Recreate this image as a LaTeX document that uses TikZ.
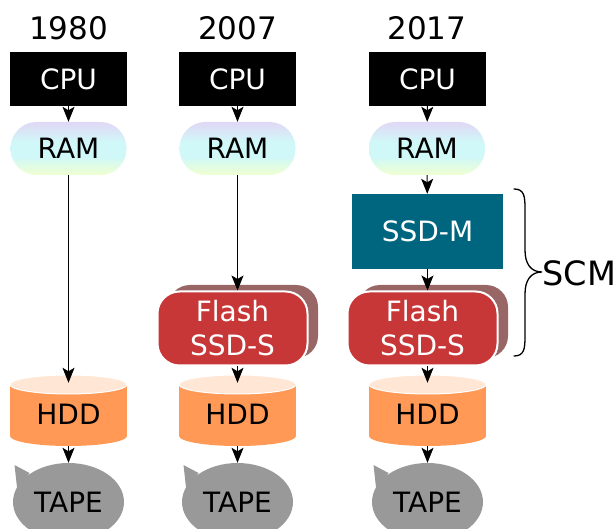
\documentclass[tikz,border=0pt]{standalone}
\usepackage{fontspec}
\setmainfont{DejaVu Sans}
\usetikzlibrary{arrows.meta,shapes.geometric}
\definecolor{flashred}{HTML}{C83737}
\definecolor{flashback}{HTML}{996666}
\definecolor{ssdteal}{HTML}{006680}
\definecolor{hddorange}{HTML}{FF9955}
\definecolor{hddtop}{HTML}{FFE6D5}
\definecolor{tapegray}{HTML}{999999}
\definecolor{ramA}{HTML}{E0D8F5}
\definecolor{ramB}{HTML}{D0F8F8}
\definecolor{ramC}{HTML}{F0FFD0}
\pgfdeclareverticalshading{ramgrad}{100bp}{
  color(0bp)=(ramC); color(25bp)=(ramC); color(42bp)=(ramB); color(56bp)=(ramB); color(75bp)=(ramA); color(100bp)=(ramA)}
\newcommand{\fsz}[1]{\fontsize{#1}{#1}\selectfont}
\tikzset{
  x=1pt,y=-1pt,
  year/.style={inner sep=0pt,font=\fsz{31}},
  cpubox/.style={fill=black,text=white,minimum width=117pt,minimum height=54pt,inner sep=0pt,font=\fsz{28}},
  rambox/.style={shading=ramgrad,rounded corners=26pt,minimum width=116pt,minimum height=53pt,inner sep=0pt,font=\fsz{28}},
  hddbox/.style={minimum width=117pt,minimum height=63pt,inner sep=0pt,font=\fsz{28}},
  tapebox/.style={ellipse,fill=tapegray,minimum width=111pt,minimum height=78pt,inner sep=0pt,font=\fsz{28}},
  flashbox/.style={fill=flashred,draw=white,line width=2pt,rounded corners=22pt,text=white,minimum width=150pt,minimum height=74pt,inner sep=0pt,align=center,font=\fsz{28}},
  flashrear/.style={fill=flashback,rounded corners=22pt,minimum width=150pt,minimum height=73pt,inner sep=0pt},
  ssdbox/.style={fill=ssdteal,text=white,minimum width=151pt,minimum height=75pt,inner sep=0pt,font=\fsz{28}},
  link/.style={draw=black,line width=1pt,-{Stealth[length=15pt,width=12pt,inset=3.5pt]}},
  hddbody/.style={fill=hddorange},
  hddlid/.style={fill=hddtop,draw=white,line width=1pt}
}
\newcommand{\hddshape}[1]{%
  \path[hddbody] (#1-58.5,384) rectangle (#1+58.5,436);
  \path[hddbody] (#1,436) ellipse[x radius=58.5,y radius=10];
  \path[hddlid] (#1,384.5) ellipse[x radius=58.5,y radius=9.5];
}
\newcommand{\tapetail}[1]{%
  \fill[tapegray] (#1-54,465) -- (#1-39,473) -- (#1-51,492) -- cycle;
}
\begin{document}
\begin{tikzpicture}
\useasboundingbox (0,0) rectangle (616,529);
% years
\node[year] (yA) at (68.5,28) {1980};
\node[year] (yB) at (237.5,28) {2007};
\node[year] (yC) at (427,28) {2017};
% CPUs
\node[cpubox] (cpuA) at (68.5,79) {CPU};
\node[cpubox] (cpuB) at (237.5,79) {CPU};
\node[cpubox] (cpuC) at (427.5,79) {CPU};
% RAM
\node[rambox,text=black] (ramAn) at (68.5,148.5) {RAM};
\node[rambox,text=black] (ramBn) at (237.5,148.5) {RAM};
\node[rambox,text=black] (ramCn) at (427,148.5) {RAM};
% SSD-M
\node[ssdbox] (ssdm) at (427.5,231.5) {SSD-M};
% Flash
\node[flashrear] (rearB) at (243,321.5) {};
\node[flashbox] (flashB) at (232.5,328.5) {Flash\\[6pt]SSD-S};
\node[flashrear] (rearC) at (433,321.5) {};
\node[flashbox] (flashC) at (422.5,328.5) {Flash\\[6pt]SSD-S};
% HDD
\hddshape{68.5}\hddshape{237.5}\hddshape{427.5}
\node[hddbox] (hddA) at (68.5,414.5) {HDD};
\node[hddbox] (hddB) at (237.5,414.5) {HDD};
\node[hddbox] (hddC) at (427.5,414.5) {HDD};
% Tape
\tapetail{68.5}\tapetail{237.5}\tapetail{427.5}
\node[tapebox] (tapeA) at (68.5,502) {TAPE};
\node[tapebox] (tapeB) at (237.5,502) {TAPE};
\node[tapebox] (tapeC) at (427.5,502) {TAPE};
% connectors
\draw[link] (cpuA) -- (ramAn);
\draw[link] (cpuB) -- (ramBn);
\draw[link] (cpuC) -- (ramCn);
\draw[link] (ramAn) -- (hddA);
\draw[link] (ramBn.south) -- (ramBn.south |- flashB.north);
\draw[link] (ramCn) -- (ssdm);
\draw[link] (ssdm.south) -- (ssdm.south |- flashC.north);
\draw[link] (flashB.south -| hddB.north) -- (hddB.north);
\draw[link] (flashC.south -| hddC.north) -- (hddC.north);
\draw[link] (hddA) -- (tapeA);
\draw[link] (hddB) -- (tapeB);
\draw[link] (hddC) -- (tapeC);
% brace
\coordinate (brT) at (514,189);
\coordinate (brB) at (514,356);
\coordinate (brM) at (542,272);
\draw[line width=1.3pt,line cap=round] (brT) .. controls (524,189) and (525,196) .. (525,208) -- (525,250) .. controls (525,264) and (531,272) .. (brM) .. controls (531,272) and (525,280) .. (525,294) -- (525,337) .. controls (525,349) and (524,356) .. (brB);
\node[inner sep=0pt,anchor=west,font=\fsz{33.5}] (scm) at (542.5,273) {SCM};
\end{tikzpicture}
\end{document}
